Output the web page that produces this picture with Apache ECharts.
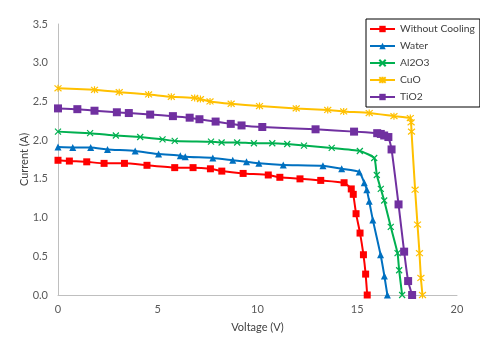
<!DOCTYPE html>
<html>
<head>
<meta charset="utf-8">
<script src="https://cdn.jsdelivr.net/npm/echarts@6/dist/echarts.min.js"></script>
<style>
  html, body { margin: 0; padding: 0; background: #fff; }
  #chart { width: 480px; height: 340px; }
</style>
</head>
<body>
<div id="chart"></div>
<script>
const seriesNames = ['Without Cooling', 'Water', 'Al2O3', 'CuO', 'TiO2'];

// voltage (V) / current (A)
const vNoCooling = [0, 0.57, 1.44, 2.31, 3.33, 4.46, 5.85, 6.77, 7.64, 8.21, 9.28, 10.54, 11.12, 12.13, 13.17, 14.34, 14.7, 14.8, 14.94, 15.14, 15.31, 15.42, 15.5];
const iNoCooling = [1.74, 1.73, 1.72, 1.70, 1.70, 1.675, 1.645, 1.645, 1.63, 1.60, 1.57, 1.55, 1.52, 1.50, 1.48, 1.45, 1.37, 1.30, 1.05, 0.80, 0.52, 0.27, 0];

const vWater = [0, 0.74, 1.64, 2.48, 3.87, 5.04, 6.13, 6.38, 7.76, 8.76, 9.45, 10.07, 11.29, 13.28, 14.22, 15.1, 15.35, 15.48, 15.6, 15.78, 16.17, 16.36, 16.51];
const iWater = [1.91, 1.905, 1.905, 1.88, 1.86, 1.82, 1.80, 1.785, 1.77, 1.74, 1.72, 1.70, 1.68, 1.67, 1.63, 1.59, 1.45, 1.36, 1.21, 0.97, 0.52, 0.245, 0];

const vAl2O3 = [0, 1.61, 2.9, 4.12, 5.24, 5.85, 7.67, 8.2, 8.98, 9.82, 10.74, 11.49, 12.33, 13.72, 15.13, 15.85, 15.98, 16.18, 16.35, 16.68, 17.02, 17.1, 17.25];
const iAl2O3 = [2.11, 2.09, 2.06, 2.04, 2.01, 1.99, 1.98, 1.97, 1.97, 1.96, 1.96, 1.95, 1.93, 1.90, 1.86, 1.77, 1.55, 1.37, 1.22, 0.88, 0.54, 0.32, 0];

const vCuO = [0, 1.83, 3.07, 4.54, 5.68, 6.85, 7.14, 7.62, 8.68, 10.1, 11.94, 13.52, 14.32, 15.6, 16.84, 17.66, 17.7, 17.72, 17.9, 18.02, 18.12, 18.19, 18.27];
const iCuO = [2.67, 2.65, 2.62, 2.59, 2.56, 2.545, 2.53, 2.50, 2.47, 2.44, 2.41, 2.39, 2.37, 2.35, 2.31, 2.285, 2.23, 2.11, 1.36, 0.91, 0.54, 0.22, 0];

const vTiO2 = [0, 0.97, 1.83, 2.95, 3.55, 4.62, 5.76, 6.6, 7.09, 7.9, 8.66, 9.2, 10.24, 12.91, 14.84, 16.0, 16.18, 16.35, 16.56, 16.72, 17.07, 17.35, 17.55, 17.75];
const iTiO2 = [2.41, 2.40, 2.38, 2.36, 2.35, 2.33, 2.31, 2.29, 2.27, 2.24, 2.21, 2.19, 2.17, 2.14, 2.11, 2.09, 2.08, 2.06, 2.04, 1.88, 1.17, 0.56, 0.18, 0];

const colors = ['#FF0000', '#0070C0', '#00B050', '#FFC000', '#7030A0'];

const xSymbol = 'path://M0,0L10,10M10,0L0,10';
const starSymbol = 'path://M0,0L10,10M10,0L0,10M5,-1L5,11';

function pairs(v, i) {
  return v.map((x, k) => [x, i[k]]);
}

const chart = echarts.init(document.getElementById('chart'));
const font = 'Lato, "Liberation Sans", sans-serif';

const makeSeries = (name, v, i, color, symbol, size, stroked) => ({
  name: name,
  type: 'line',
  data: pairs(v, i),
  smooth: 0.15,
  symbol: symbol,
  symbolSize: size,
  showSymbol: true,
  lineStyle: { color: color, width: 2 },
  itemStyle: stroked
    ? { color: 'rgba(0,0,0,0)', borderColor: color, borderWidth: 1.2 }
    : { color: color, borderColor: color, borderWidth: 0 },
  emphasis: { disabled: true }
});

chart.setOption({
  animation: false,
  backgroundColor: '#fff',
  textStyle: { fontFamily: font },
  grid: { left: 58, right: 23, top: 24, bottom: 45 },
  legend: {
    orient: 'vertical',
    left: 366,
    top: 19,
    padding: [5, 5, 5, 3],
    itemWidth: 25,
    itemHeight: 8,
    itemGap: 7,
    borderColor: '#000',
    borderWidth: 1,
    backgroundColor: '#fff',
    textStyle: { fontSize: 10.3, color: '#404040', fontFamily: font },
    data: seriesNames
  },
  xAxis: {
    type: 'value',
    min: 0,
    max: 20,
    interval: 5,
    name: 'Voltage (V)',
    nameLocation: 'middle',
    nameGap: 27,
    nameMoveOverlap: false,
    nameTextStyle: { fontSize: 11, color: '#404040' },
    axisLine: { lineStyle: { color: '#BFBFBF', width: 1 } },
    axisTick: { show: false },
    splitLine: { show: false },
    axisLabel: { fontSize: 11, color: '#595959', margin: 9 }
  },
  yAxis: {
    type: 'value',
    min: 0,
    max: 3.5,
    interval: 0.5,
    name: 'Current (A)',
    nameLocation: 'middle',
    nameGap: 28,
    nameMoveOverlap: false,
    nameTextStyle: { fontSize: 11, color: '#404040' },
    axisLine: { show: true, lineStyle: { color: '#BFBFBF', width: 1 } },
    axisTick: { show: false },
    splitLine: { show: false },
    axisLabel: { fontSize: 11, color: '#595959', margin: 10, formatter: v => v.toFixed(1) }
  },
  series: [
    makeSeries(seriesNames[0], vNoCooling, iNoCooling, colors[0], 'rect', 7, false),
    makeSeries(seriesNames[1], vWater, iWater, colors[1], 'triangle', 7, false),
    makeSeries(seriesNames[2], vAl2O3, iAl2O3, colors[2], xSymbol, 6, true),
    makeSeries(seriesNames[3], vCuO, iCuO, colors[3], starSymbol, 7, true),
    makeSeries(seriesNames[4], vTiO2, iTiO2, colors[4], 'rect', 8, false)
  ]
});

window.addEventListener('resize', () => chart.resize());
</script>
</body>
</html>
